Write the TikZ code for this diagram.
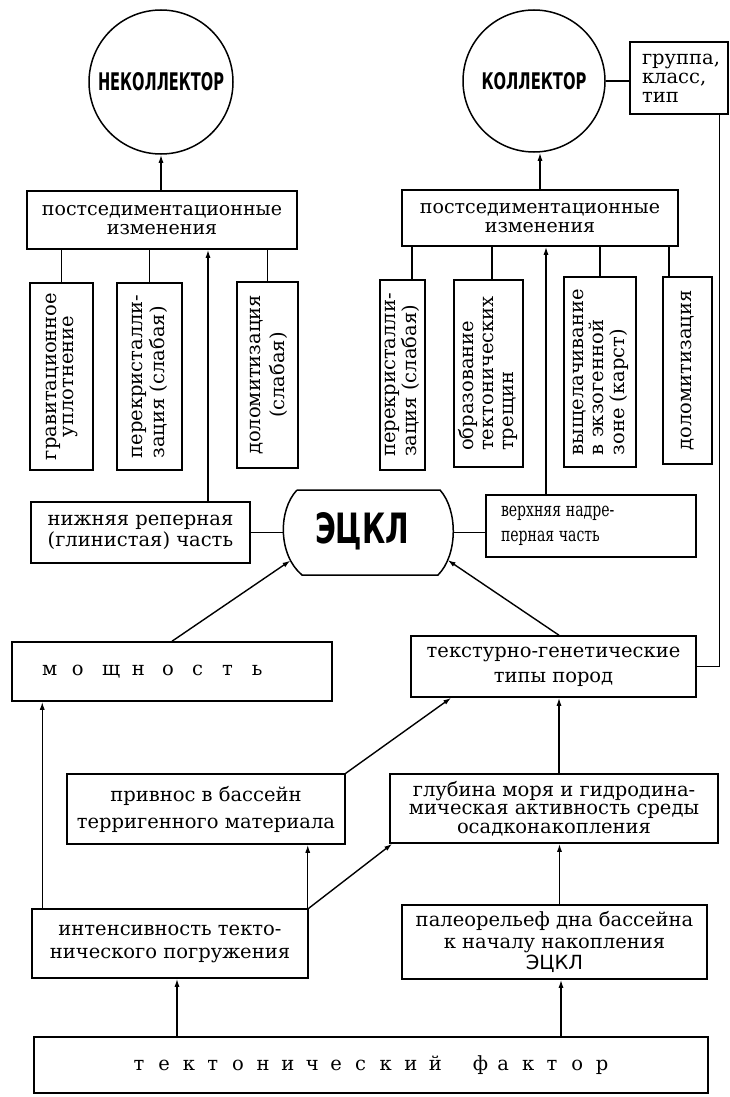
\documentclass[tikz,border=0pt]{standalone}
\usepackage{fontspec}
\usepackage{graphicx}
\setmainfont{DejaVu Serif}
\newfontfamily\dvs{DejaVu Sans}
\usetikzlibrary{arrows.meta}
\newcommand\tf[1]{\fontsize{19.5pt}{#1pt}\selectfont}
\newcommand\vtext[2]{\rotatebox{90}{\begin{tabular}{@{}#1@{}}#2\end{tabular}}}
\newcommand\lt[1]{\makebox[24.6pt][l]{#1}}
\newcommand\lm[1]{\makebox[30pt][l]{#1}}
\begin{document}
\begin{tikzpicture}[x=1pt,y=-1pt,
  box/.style={draw, line width=1.5pt, inner sep=0pt, font=\tf{20}},
  ring/.style={draw, circle, line width=1.5pt, inner sep=0pt},
  arr/.style={-{Latex[length=8pt,width=5pt]}, line width=1.4pt},
  ln/.style={line width=1.4pt}]
\useasboundingbox (0,0) rectangle (729,1097);

% circles
\node[ring, minimum size=144pt] (cne) at (161,82) {\resizebox{126pt}{18pt}{\dvs\bfseries НЕКОЛЛЕКТОР}};
\node[ring, minimum size=142pt] (ck) at (534,81) {\resizebox{105pt}{17pt}{\dvs\bfseries КОЛЛЕКТОР}};
\node[box, minimum width=98pt, minimum height=72pt, text width=74pt, align=left, font=\tf{19}] (grp) at (679,78) {группа,\\класс,\\тип};

% post-sedimentation boxes
\node[box, minimum width=270pt, minimum height=58pt, align=center, font={\fontsize{19pt}{19pt}\selectfont}] (psl) at (162,220) {постседиментационные\\изменения};
\node[box, minimum width=276pt, minimum height=56pt, align=center, font={\fontsize{19pt}{19pt}\selectfont}] (psr) at (540,218) {постседиментационные\\изменения};

% left vertical boxes
\node[box, minimum width=63pt, minimum height=187pt, font=\tf{17.5}] (vl1) at (61.5,376.5) {\vtext{c}{гравитационное\\уплотнение}};
\node[box, minimum width=65pt, minimum height=187pt, font=\tf{22}] (vl2) at (149.5,376.5) {\vtext{l}{перекристалли-\\зация (слабая)}};
\node[box, minimum width=61pt, minimum height=186pt, font=\tf{24}] (vl3) at (267.5,375) {\vtext{c}{доломитизация\\(слабая)}};

% right vertical boxes
\node[box, minimum width=45pt, minimum height=190pt, font=\tf{18}] (vr1) at (402.5,375) {\vtext{l}{перекристалли-\\зация (слабая)}};
\node[box, minimum width=69pt, minimum height=187pt, font=\tf{20}] (vr2) at (488.5,373.5) {\vtext{l}{образование\\тектонических\\трещин}};
\node[box, minimum width=72pt, minimum height=190pt, font=\tf{20}] (vr3) at (600,372) {\vtext{l}{выщелачивание\\в экзогенной\\зоне (карст)}};
\node[box, minimum width=49pt, minimum height=187pt, font=\tf{20}] (vr4) at (687.5,370.5) {\vtext{l}{доломитизация}};

% ECKL
\draw[line width=1.5pt] (297,490) -- (440,490) .. controls (458,510) and (458,555) .. (438,575) -- (302,575) .. controls (278,555) and (278,510) .. (297,490);
\node[inner sep=0pt] (ecl) at (362,531) {\resizebox{94pt}{31pt}{\dvs\bfseries ЭЦКЛ}};
\coordinate (eclW) at (283.4,532.5);
\coordinate (eclE) at (453.2,532.5);
\coordinate (eclSW) at (290.5,560.5);
\coordinate (eclSE) at (447.6,560);

\node[box, minimum width=219pt, minimum height=61pt, align=left, font=\tf{21}] (rl) at (140.5,532.5) {нижняя реперная\\(глинистая) часть};
\node[box, minimum width=210pt, minimum height=62pt, text width=180pt, align=left, font=\tf{25}] (rr) at (591,526) {\scalebox{0.72}[1]{верхняя надре-}\\\scalebox{0.72}[1]{перная часть}};

% middle and lower boxes
\node[box, minimum width=320pt, minimum height=59pt, text width=260pt, align=left] (msh) at (172,671.5) {\lm{м}\lm{о}\lm{щ}\lm{н}\lm{о}\lm{с}\lm{т}ь};
\node[box, minimum width=285pt, minimum height=61pt, align=center, font=\tf{25}] (tex) at (553.5,666.5) {текстурно-генетические\\типы пород};
\node[box, minimum width=278pt, minimum height=70pt, align=center, font=\tf{27}] (prv) at (206,809) {привнос в бассейн\\терригенного материала};
\node[box, minimum width=328pt, minimum height=69pt, align=center, font=\tf{18.5}] (glb) at (554,808.5) {глубина моря и гидродина-\\мическая активность среды\\осадконакопления};
\node[box, minimum width=276pt, minimum height=69pt, align=center, font=\tf{23}] (ins) at (170,943.5) {интенсивность текто-\\нического погружения};
\node[box, minimum width=305pt, minimum height=74pt, align=center, font=\tf{21.5}] (pal) at (554.5,942) {палеорельеф дна бассейна\\к началу накопления\\{\dvs ЭЦКЛ}};
\node[box, minimum width=674pt, minimum height=56pt] (tkt) at (371,1065) {\lt{т}\lt{е}\lt{к}\lt{т}\lt{о}\lt{н}\lt{и}\lt{ч}\lt{е}\lt{с}\lt{к}\lt{и}\makebox[44pt][l]{й}\lt{ф}\lt{а}\lt{к}\lt{т}\lt{о}р};

% connectors top
\draw[arr] (psl.north -| cne.south) -- (cne.south);
\draw[arr] (psr.north) -- (psr.north |- ck.south);
\draw[line width=2.5pt] (ck.east) -- (ck.east -| grp.west);
\coordinate (g1) at ([xshift=-9pt]grp.south east);
\draw[ln] (g1) |- (tex.east);

\foreach \n in {vl1,vl2,vl3} \draw[ln] (\n.north) -- (\n.north |- psl.south);
\coordinate (s1) at ([xshift=9.5pt]vr1.north);
\coordinate (s2) at ([xshift=3.5pt]vr2.north);
\coordinate (s3) at (vr3.north);
\coordinate (s4) at ([xshift=-18.5pt]vr4.north);
\foreach \n in {s1,s2,s3,s4} \draw[ln] (\n) -- (\n |- psr.south);

\coordinate (a1) at ([xshift=67.5pt]rl.north);
\draw[arr] (a1) -- (a1 |- psl.south);
\coordinate (a2) at ([xshift=-45pt]rr.north);
\draw[arr] (a2) -- (a2 |- psr.south);

\draw[ln] (rl.east) -- (eclW);
\draw[ln] (eclE) -- (eclE -| rr.west);
\draw[arr] (msh.north) -- (eclSW);
\coordinate (a3) at ([xshift=5.5pt]tex.north);
\draw[arr] (a3) -- (eclSE);

% connectors bottom
\coordinate (b1) at ([xshift=11pt]ins.north west);
\draw[arr] (b1) -- (b1 |- msh.south);
\coordinate (b2) at ([xshift=-1pt]ins.north east);
\draw[arr] (b2) -- (b2 |- prv.south);
\draw[arr] (ins.north east) -- ([xshift=3pt]glb.south west);
\draw[arr] (prv.north east) -- ([xshift=41pt]tex.south west);
\coordinate (b3) at ([xshift=5pt]glb.north);
\draw[arr] (b3) -- (b3 |- tex.south);
\coordinate (b4) at ([xshift=5pt]pal.north);
\draw[arr] (b4) -- (b4 |- glb.south);
\coordinate (b5) at ([xshift=-194pt]tkt.north);
\draw[arr] (b5) -- (b5 |- ins.south);
\coordinate (b6) at ([xshift=190pt]tkt.north);
\draw[arr] (b6) -- (b6 |- pal.south);
\end{tikzpicture}
\end{document}
